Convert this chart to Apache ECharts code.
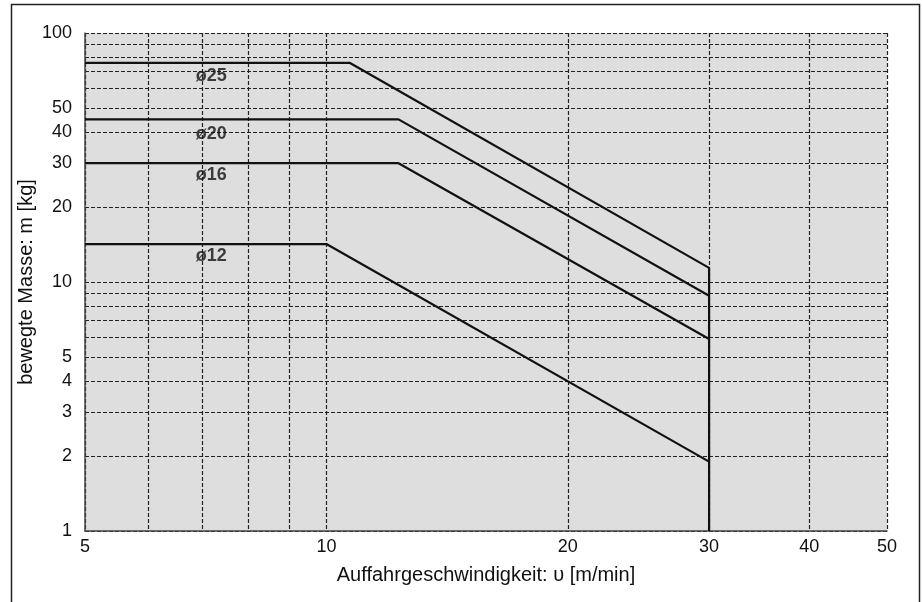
<!DOCTYPE html>
<html>
<head>
<meta charset="utf-8">
<script src="https://cdn.jsdelivr.net/npm/echarts@6/dist/echarts.min.js"></script>
<style>
  html, body { margin: 0; padding: 0; background: #fff; }
  #chart { width: 922px; height: 602px; }
</style>
</head>
<body>
<div id="chart"></div>
<script>
// tick labels and grid values
var xLabels = [5, 10, 20, 30, 40, 50];
var xGrid = [5, 6, 7, 8, 9, 10, 20, 30, 40, 50];
var yLabels = [1, 2, 3, 4, 5, 10, 20, 30, 40, 50, 100];
var yGrid = [1, 2, 3, 4, 5, 6, 7, 8, 9, 10, 20, 30, 40, 50, 60, 70, 80, 90, 100];

// curves [v, m]
var phi25 = [[5, 75.8], [10.7, 75.8], [30, 11.4]];
var phi20 = [[5, 45], [12.3, 45], [30, 8.8]];
var phi16 = [[5, 30], [12.3, 30], [30, 5.9]];
var phi12 = [[5, 14.2], [10, 14.2], [30, 1.9]];
var limit30 = [[30, 11.4], [30, 1]];

// curve names
var curveNames = ['ø25', 'ø20', 'ø16', 'ø12'];
var namePos = [[6.87, 67.2], [6.87, 39.3], [6.87, 26.9], [6.87, 12.7]];

var chart = echarts.init(document.getElementById('chart'));
var font = 'Liberation Sans, Arial, Helvetica, sans-serif';

function curve(data) {
  return {
    type: 'line',
    data: data,
    symbol: 'none',
    silent: true,
    lineStyle: { color: '#111', width: 2.2 },
    z: 5
  };
}

var option = {
  animation: false,
  graphic: [{
    type: 'rect',
    left: 9, top: 2,
    shape: { width: 908, height: 640 },
    style: { fill: 'none', stroke: '#222', lineWidth: 1.5 },
    silent: true
  }],
  grid: {
    left: 85, right: 35, top: 33, bottom: 71,
    show: true,
    backgroundColor: '#dedede',
    borderWidth: 0
  },
  xAxis: {
    type: 'log',
    logBase: 10,
    min: 5, max: 50,
    name: 'Auffahrgeschwindigkeit: υ [m/min]',
    nameLocation: 'middle',
    nameGap: 34,
    nameTextStyle: { fontFamily: font, fontSize: 20, color: '#111' },
    axisLine: { show: true, lineStyle: { color: '#444', width: 1.5 } },
    axisTick: { show: false, customValues: xGrid },
    axisLabel: { customValues: xLabels, fontFamily: font, fontSize: 18, color: '#111', margin: 7 },
    splitLine: { show: true, lineStyle: { color: '#222', type: [4, 2], width: 1.2 } }
  },
  yAxis: {
    type: 'log',
    logBase: 10,
    min: 1, max: 100,
    name: 'bewegte Masse: m [kg]',
    nameLocation: 'middle',
    nameGap: 49,
    nameMoveOverlap: false,
    nameTextStyle: { fontFamily: font, fontSize: 20, color: '#111' },
    axisLine: { show: true, lineStyle: { color: '#444', width: 1.5 } },
    axisTick: { show: false, customValues: yGrid },
    axisLabel: { customValues: yLabels, fontFamily: font, fontSize: 18, color: '#111', margin: 13 },
    splitLine: { show: true, lineStyle: { color: '#222', type: [4, 2], width: 1.2 } }
  },
  series: [
    curve(phi25),
    curve(phi20),
    curve(phi16),
    curve(phi12),
    curve(limit30),
    {
      type: 'scatter',
      symbolSize: 0,
      silent: true,
      z: 6,
      data: namePos.map(function (p, i) {
        return { value: p, name: curveNames[i] };
      }),
      label: {
        show: true,
        position: 'right',
        distance: 0,
        formatter: '{b}',
        fontFamily: font,
        fontSize: 18,
        fontWeight: 'bold',
        color: '#111'
      }
    }
  ]
};
chart.setOption(option);
</script>
</body>
</html>
